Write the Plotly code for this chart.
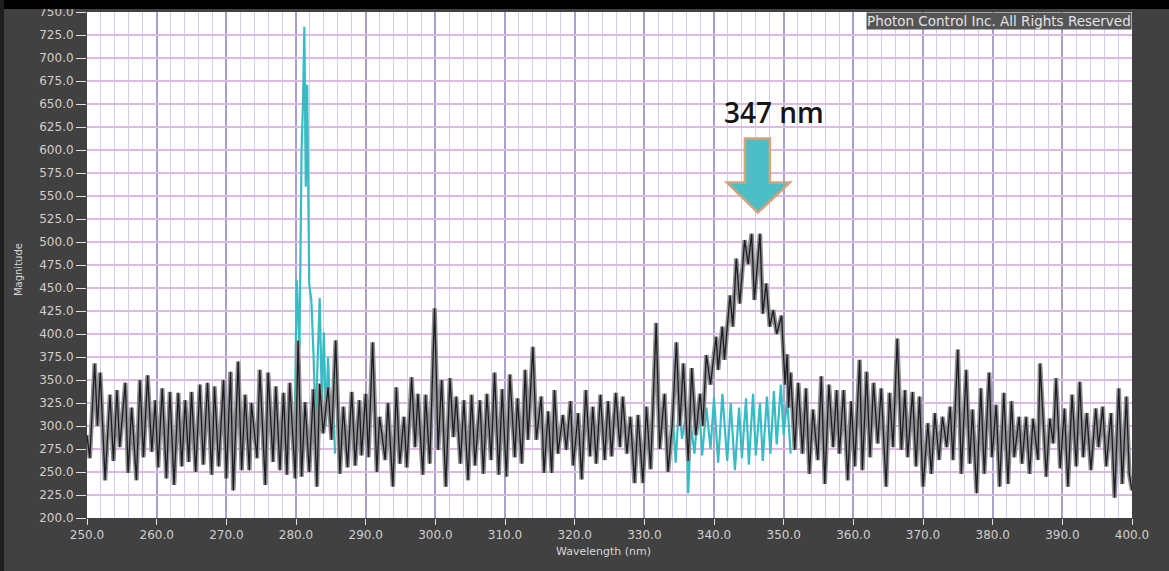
import plotly.graph_objects as go

# ---------------- data ----------------
# dark (black/grey) spectrum, split into wavelength segments
dark_nm_a = [250.0,250.4,251.1,251.5,251.9,252.6,253.3,253.8,254.3,254.7,255.5,255.9,256.4,257.1,257.6,258.1,258.7,259.3,259.8,260.2,
             260.8,261.4,261.9,262.5,263.1,263.6,264.1,264.6,265.0,265.6,266.2,266.7,267.3,267.9,268.3,268.9,269.6,270.0,270.6,271.0,
             271.7,272.2,272.7,273.3,273.6,274.4,274.8,275.6,276.0,276.7,277.1,277.7,278.2,278.7,279.1,279.9,280.3]
dark_mag_a = [290,265,368,300,358,241,334,262,339,277,347,249,320,241,350,266,355,272,328,255,
              341,243,337,236,336,256,328,261,337,250,345,258,347,247,343,256,350,243,359,230,
              370,252,334,252,325,265,361,236,358,261,343,252,336,247,347,243,393]

dark_nm_b = [280.8,281.3,281.9,282.5,283.0,283.4,283.9,284.6,285.1,285.7,286.3,286.8,287.4,288.0,288.5,289.1,289.4,290.0,290.4,291.0,
             291.6,292.0,292.8,293.2,293.9,294.4,294.9,295.5,295.9,296.6,297.1,297.5,298.2,298.6,299.2,299.9,300.4,300.9,301.5,302.1,
             302.6,303.0,303.6,304.1,304.7,305.2,305.7,306.4,306.9,307.4,308.0,308.5,309.1,309.6,310.2,310.7,311.4,311.8,312.4,312.9]
dark_mag_b = [245,326,250,340,234,346,292,342,285,393,248,321,255,337,257,328,268,335,266,391,
              250,310,263,325,234,342,259,310,255,353,277,335,247,334,259,428,274,350,234,352,
              288,332,259,328,241,334,257,328,248,335,263,358,247,340,245,356,266,330,259,361]

dark_nm_c = [313.3,314.0,314.5,315.2,315.6,316.2,316.7,317.1,317.6,318.3,318.8,319.4,319.8,320.5,321.0,321.6,322.2,322.6,323.1,323.7,
             324.3,324.8,325.3,325.9,326.5,326.9,327.5,328.0,328.6,329.1,329.8,330.3,330.9,331.7,332.2,332.9,333.4,334.0,334.6,335.1,
             335.6,336.3,336.8,337.4,338.0,338.4,338.9,339.5,340.3]
dark_mag_c = [285,386,285,332,249,316,249,339,270,312,274,327,257,314,242,339,267,321,259,334,
              263,327,267,336,277,332,270,310,238,312,238,321,253,412,275,335,250,300,391,300,
              368,262,363,290,335,300,377,345,397]

dark_nm_d = [340.6,341.2,341.5,342.3,342.7,343.2,343.7,344.4,344.9,345.4,345.8,346.6,347.0,347.5,348.0,348.5,349.0,349.7,350.2,350.5,
             350.7,351.0]
dark_mag_d = [361,408,372,442,408,482,433,502,476,509,437,509,422,455,408,426,400,420,345,378,
              320,358]

dark_nm_e = [351.6,352.1,352.7,353.2,353.7,354.2,354.9,355.4,355.9,356.5,357.1,357.6,358.0,358.6,359.2,359.7,360.2,360.9,361.3,361.9,
             362.4,362.9,363.5,364.0,364.7,365.2,365.7,366.3,366.9,367.4,367.8,368.5,369.0,369.5,370.0,370.7,371.2,371.7,372.3,372.8,
             373.4,373.9,374.3,375.0]
dark_mag_e = [274,347,270,341,248,318,263,354,237,345,277,339,270,339,241,327,256,372,252,359,
              266,347,281,341,234,336,277,395,274,339,266,337,256,332,234,303,248,314,263,310,
              277,321,263,383]

dark_nm_f = [375.5,376.2,376.7,377.1,377.7,378.3,378.8,379.5,379.9,380.5,381.0,381.6,382.2,382.7,383.1,383.8,384.2,384.8,385.3,385.8,
             386.5,386.8,387.7,388.2,388.7,389.1,389.7,390.3,390.8,391.4,392.0,392.5,393.0,393.5,394.1,394.8,395.2,395.8,396.3,397.0,
             397.5,398.1,398.6,399.2,399.6,400.0]
dark_mag_f = [248,361,259,318,227,341,248,358,266,323,234,336,237,327,266,310,259,310,248,308,
              263,368,245,308,281,352,254,319,234,334,256,348,266,314,252,319,277,321,256,314,
              222,341,237,332,248,230]

# cyan spectrum where it departs from the dark one
cyan_peak_nm = [279.5,279.8,280.1,280.5,280.8,281.0,281.2,281.4,281.6,281.9,282.2,282.5,282.8,283.1,283.4,283.7,284.0,284.3,284.6,285.0,285.3,285.6]
cyan_peak_mag = [300,290,459,385,600,650,734,560,671,454,437,380,300,380,439,330,402,300,375,290,340,270]

cyan_hump_nm = [333.0,333.5,334.0,334.5,335.0,335.4,336.0,336.3,336.7,337.2,337.8,338.3,338.9,339.5,340.0,340.6,341.2,341.9,342.4,343.0,
                343.6,344.0,344.6,345.0,345.6,346.0,346.6,347.0,347.6,348.1,348.6,349.0,349.6,350.0,350.5,351.0]
cyan_hump_mag = [300,250,320,260,327,286,313,227,300,270,330,268,320,275,331,260,335,262,325,252,
                 320,265,330,258,335,268,325,262,332,270,338,280,345,290,330,270]

x_ticks = [250, 260, 270, 280, 290, 300, 310, 320, 330, 340, 350, 360, 370, 380, 390, 400]
y_ticks = list(range(200, 751, 25))

peak_label = "347 nm"
arrow_tip_nm = 346.3
arrow_tip_mag = 532
label_nm = 348.6
label_mag = 641

# ---------------- figure ----------------
dark_nm = dark_nm_a + dark_nm_b + dark_nm_c + dark_nm_d + dark_nm_e + dark_nm_f
dark_mag = dark_mag_a + dark_mag_b + dark_mag_c + dark_mag_d + dark_mag_e + dark_mag_f

fig = go.Figure()
for nm, mag in [(cyan_peak_nm, cyan_peak_mag), (cyan_hump_nm, cyan_hump_mag)]:
    fig.add_trace(go.Scatter(x=nm, y=mag, mode="lines",
                             line=dict(color="#38bcc4", width=2.2), hoverinfo="skip"))
fig.add_trace(go.Scatter(x=dark_nm, y=dark_mag, mode="lines",
                         line=dict(color="#8f8f8f", width=4.5), hoverinfo="skip"))
fig.add_trace(go.Scatter(x=dark_nm, y=dark_mag, mode="lines",
                         line=dict(color="#1b1b24", width=1.3), hoverinfo="skip"))

tick_font = dict(family="DejaVu Sans", size=12, color="#cfcfcf")

fig.update_layout(
    width=1169, height=571,
    margin=dict(l=87, r=37, t=12, b=53, autoexpand=False),
    paper_bgcolor="#414141",
    plot_bgcolor="white",
    showlegend=False,
    xaxis=dict(range=[250, 400], tickvals=x_ticks, tickformat=".1f", automargin=False,
               showgrid=True, gridcolor="#a69fcf", gridwidth=2,
               minor=dict(dtick=2, tick0=250, showgrid=True, gridcolor="#d3cceb", gridwidth=1),
               ticks="outside", ticklen=6, tickcolor="#e0e0e0", ticklabelstandoff=0,
               tickfont=tick_font, zeroline=False, showline=False),
    yaxis=dict(range=[200, 750], tickvals=y_ticks, tickformat=".1f", automargin=False,
               showgrid=True, gridcolor="#ddb9e4", gridwidth=1.5,
               ticks="outside", ticklen=10, tickcolor="#e0e0e0",
               tickfont=tick_font, zeroline=False, showline=False),
)

fig.add_shape(type="rect", xref="paper", yref="paper", x0=-0.2, x1=1.2, y0=1.006, y1=1.08,
              fillcolor="black", line=dict(width=0), layer="above")
fig.add_shape(type="rect", xref="paper", yref="paper", x0=-0.2, x1=-0.0795, y0=-0.2, y1=1.08,
              fillcolor="#1e1e1e", line=dict(width=0), layer="above")

# block arrow pointing at the peak
fig.add_shape(type="path", xref="x", yref="y", xsizemode="pixel", ysizemode="pixel",
              xanchor=arrow_tip_nm, yanchor=arrow_tip_mag,
              path="M 0 0 L -31 30 L -13 30 L -13 74 L 12 74 L 12 30 L 32 30 Z",
              fillcolor="#4cbfc6", line=dict(color="#d6a27a", width=2.5), layer="above")

fig.add_annotation(x=label_nm, y=label_mag, xref="x", yref="y", text=peak_label, showarrow=False,
                   font=dict(family="Open Sans", size=28, color="#151515", weight=600))
fig.add_annotation(x=1, y=1, xref="paper", yref="paper", xanchor="right", yanchor="top",
                   text="Photon Control Inc. All Rights Reserved", showarrow=False,
                   bgcolor="#555555", borderpad=0,
                   font=dict(family="DejaVu Sans", size=13.5, color="#e4e4e4"))
fig.add_annotation(x=-0.066, y=0.49, xref="paper", yref="paper", xanchor="center", yanchor="middle",
                   text="Magnitude", textangle=-90,
                   showarrow=False, font=dict(family="DejaVu Sans", size=10, color="#d6d6d6"))
fig.add_annotation(x=0.494, y=-0.066, xref="paper", yref="paper", xanchor="center", yanchor="middle",
                   text="Wavelength (nm)",
                   showarrow=False, font=dict(family="DejaVu Sans", size=11, color="#d6d6d6"))

fig.write_html("out.html")
